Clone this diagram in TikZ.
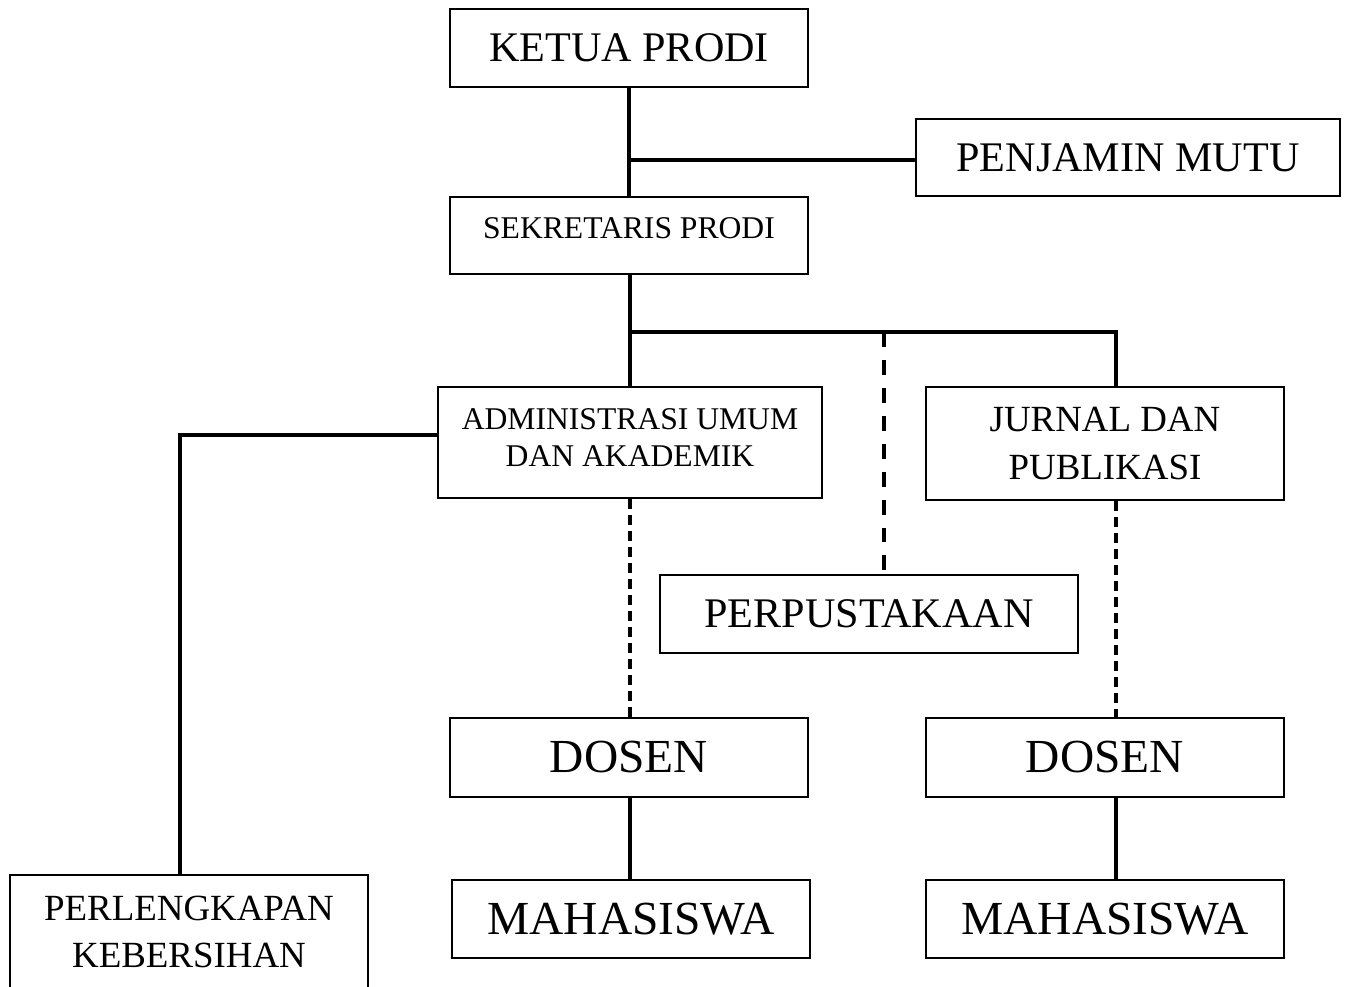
\documentclass[tikz,border=0pt]{standalone}
\usepackage{fontspec}
\setmainfont{Liberation Serif}
\usetikzlibrary{calc}

\begin{document}
\begin{tikzpicture}[
  x=0.02cm, y=-0.02cm,
  kotak/.style={draw,line width=1.1pt,inner sep=0pt,align=center},
  garis/.style={line width=2.2pt},
  putus/.style={garis,dash pattern=on 5.7pt off 3.4pt},
  putusbesar/.style={garis,dash pattern=on 8.5pt off 7.4pt},
]
  \useasboundingbox (0,0) rectangle (1349,987);
  % ---------------- pimpinan ----------------
  \node[kotak,minimum width=358*0.02cm,minimum height=78*0.02cm,font=\fontsize{24}{28}\selectfont]
    (ketua) at (629,48) {KETUA PRODI};
  \node[kotak,minimum width=424*0.02cm,minimum height=77*0.02cm,font=\fontsize{24}{28}\selectfont]
    (penjamin) at (1128,157.5) {PENJAMIN MUTU};
  \node[kotak,minimum width=358*0.02cm,minimum height=77*0.02cm,font=\fontsize{18}{21}\selectfont,
    text depth=8pt] (sekretaris) at (629,235.5) {SEKRETARIS PRODI};
  % ---------------- unit ----------------
  \node[kotak,minimum width=384*0.02cm,minimum height=111*0.02cm,font=\fontsize{18}{21}\selectfont,
    text depth=6pt] (admin) at (630,442.5) {ADMINISTRASI UMUM\\DAN AKADEMIK};
  \node[kotak,minimum width=358*0.02cm,minimum height=113*0.02cm,font=\fontsize{21}{27}\selectfont]
    (jurnal) at (1105,443.5) {JURNAL DAN\\PUBLIKASI};
  \node[kotak,minimum width=418*0.02cm,minimum height=78*0.02cm,font=\fontsize{24}{28}\selectfont]
    (perpus) at (869,614) {PERPUSTAKAAN};
  \node[kotak,minimum width=358*0.02cm,minimum height=114*0.02cm,font=\fontsize{21}{27}\selectfont]
    (perleng) at (189,932) {PERLENGKAPAN\\KEBERSIHAN};
  % ---------------- dosen dan mahasiswa ----------------
  \node[kotak,minimum width=358*0.02cm,minimum height=79*0.02cm,font=\fontsize{27}{32}\selectfont]
    (dosenA) at (629,757.5) {DOSEN};
  \node[kotak,minimum width=358*0.02cm,minimum height=78*0.02cm,font=\fontsize{27}{32}\selectfont]
    (mhsA) at (631,919) {MAHASISWA};
  \node[kotak,minimum width=358*0.02cm,minimum height=79*0.02cm,font=\fontsize{27}{32}\selectfont]
    (dosenB) at (1105,757.5) {DOSEN};
  \node[kotak,minimum width=358*0.02cm,minimum height=78*0.02cm,font=\fontsize{27}{32}\selectfont]
    (mhsB) at (1105,919) {MAHASISWA};

  % ---------------- garis ----------------
  \coordinate (cabang) at (628,160);
  \coordinate (busL) at (630,332);
  \coordinate (busM) at (884,332);
  \coordinate (busR) at (1116,332);
  \coordinate (siku) at (180,435);

  \draw[garis] (ketua.south) -- (sekretaris.north);
  \draw[garis] (cabang) -- (cabang -| penjamin.west);
  \draw[garis] (busL |- sekretaris.south) -- (busL);
  \draw[garis] (busL) -- (busR) -- (busR |- jurnal.north);
  \draw[garis] (busL) -- (admin.north);
  \draw[putusbesar] (busM) -- (busM |- perpus.north);
  \draw[garis] (siku -| admin.west) -- (siku) -- (siku |- perleng.north);
  \draw[putus] (admin.south) -- (admin.south |- dosenA.north);
  \draw[garis] (busL |- dosenA.south) -- (busL |- mhsA.north);
  \draw[putus] (busR |- jurnal.south) -- (busR |- dosenB.north);
  \draw[garis] (busR |- dosenB.south) -- (busR |- mhsB.north);
\end{tikzpicture}
\end{document}
